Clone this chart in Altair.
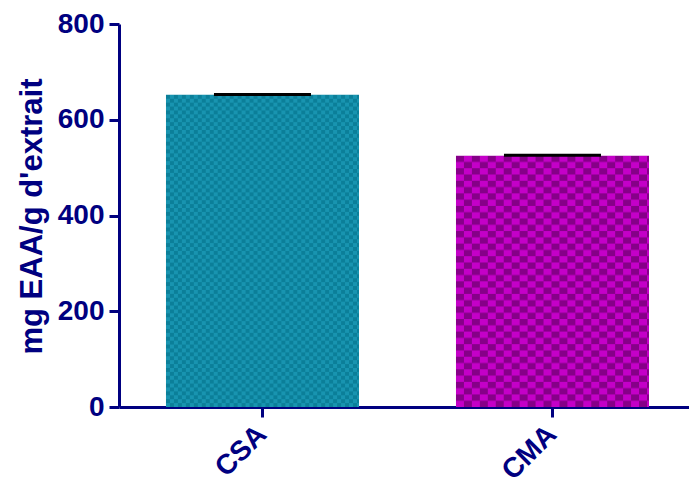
import urllib.parse

import altair as alt
import pandas as pd

# Bar values (mean) and their error (SEM) per extract
groups = ["CSA", "CMA"]
means = [652, 525]
errors = [1, 1]

# Checker pattern colours per group: (light, dark, cell size in px)
light_colors = ["#1894b0", "#c400c8"]
dark_colors = ["#0b7f99", "#860088"]
cell_sizes = [4, 8]
avg_colors = ["#118aa5", "#a500a8"]

NAVY = "#000080"
FONT = "Liberation Sans"

df = pd.DataFrame({"group": groups, "mean": means, "err": errors})
df["upper"] = df["mean"] + df["err"]


def checker_uri(cell, light, dark, w, h):
    """SVG checkerboard image, returned as a data URI."""
    c2 = 2 * cell
    svg = (
        f'<svg xmlns="http://www.w3.org/2000/svg" width="{w}" height="{h}" '
        f'viewBox="0 0 {w} {h}" preserveAspectRatio="none">'
        f'<defs><pattern id="p" width="{c2}" height="{c2}" patternUnits="userSpaceOnUse">'
        f'<rect width="{c2}" height="{c2}" fill="{light}"/>'
        f'<rect width="{cell}" height="{cell}" fill="{dark}"/>'
        f'<rect x="{cell}" y="{cell}" width="{cell}" height="{cell}" fill="{dark}"/>'
        f'</pattern></defs><rect width="{w}" height="{h}" fill="url(#p)"/></svg>'
    )
    return "data:image/svg+xml;charset=utf-8," + urllib.parse.quote(svg)


x_enc = alt.X(
    "group:N",
    sort=groups,
    scale=alt.Scale(paddingInner=0.3345, paddingOuter=0.15, align=0.54),
    axis=alt.Axis(
        title=None,
        labelAngle=315,
        labelAlign="right",
        labelBaseline="middle",
        labelPadding=13,
        tickSize=10,
    ),
)

y_scale = alt.Scale(domain=[0, 800], nice=False)
y_enc = alt.Y(
    "mean:Q",
    scale=y_scale,
    axis=alt.Axis(
        values=[0, 200, 400, 600, 800],
        title="mg EAA/g d'extrait",
        titleFontSize=31,
        titleAngle=270,
        titleAlign="center",
        titleBaseline="alphabetic",
        titleX=-78,
        titleY=192,
        labelPadding=5,
        tickSize=10,
    ),
)

bars = (
    alt.Chart(df)
    .mark_bar()
    .encode(
        x=x_enc,
        y=y_enc,
        color=alt.Color("group:N", scale=alt.Scale(domain=groups, range=avg_colors), legend=None),
    )
)

# Checkerboard fill drawn over each bar
patterns = []
for g, light, dark, cell in zip(groups, light_colors, dark_colors, cell_sizes):
    uri = checker_uri(cell, light, dark, 194, 320)
    patterns.append(
        alt.Chart(df)
        .transform_filter(alt.datum.group == g)
        .mark_image(aspect=False)
        .encode(x=x_enc, y=y_enc, y2=alt.datum(0), url=alt.value(uri))
    )

err_rule = (
    alt.Chart(df)
    .mark_rule(color="black", strokeWidth=3, opacity=1)
    .encode(x=x_enc, y=alt.Y("mean:Q", scale=y_scale), y2="upper:Q")
)

caps = (
    alt.Chart(df)
    .mark_tick(color="black", thickness=3, size=97, orient="horizontal", opacity=1)
    .encode(x=x_enc, y=alt.Y("upper:Q", scale=y_scale))
)

chart = (
    alt.layer(bars, *patterns, err_rule, caps)
    .properties(
        width=570,
        height=383,
        autosize=alt.AutoSizeParams(type="none"),
        padding={"left": 119, "top": 24, "right": 0, "bottom": 79},
    )
    .configure_view(stroke=None)
    .configure_axis(
        grid=False,
        domainColor=NAVY,
        domainWidth=3,
        tickColor=NAVY,
        tickWidth=3,
        labelColor=NAVY,
        labelFont=FONT,
        labelFontSize=28,
        labelFontWeight="bold",
        titleColor=NAVY,
        titleFont=FONT,
        titleFontWeight="bold",
    )
)

chart.save("out.html", embed_options={"renderer": "svg", "actions": False})
